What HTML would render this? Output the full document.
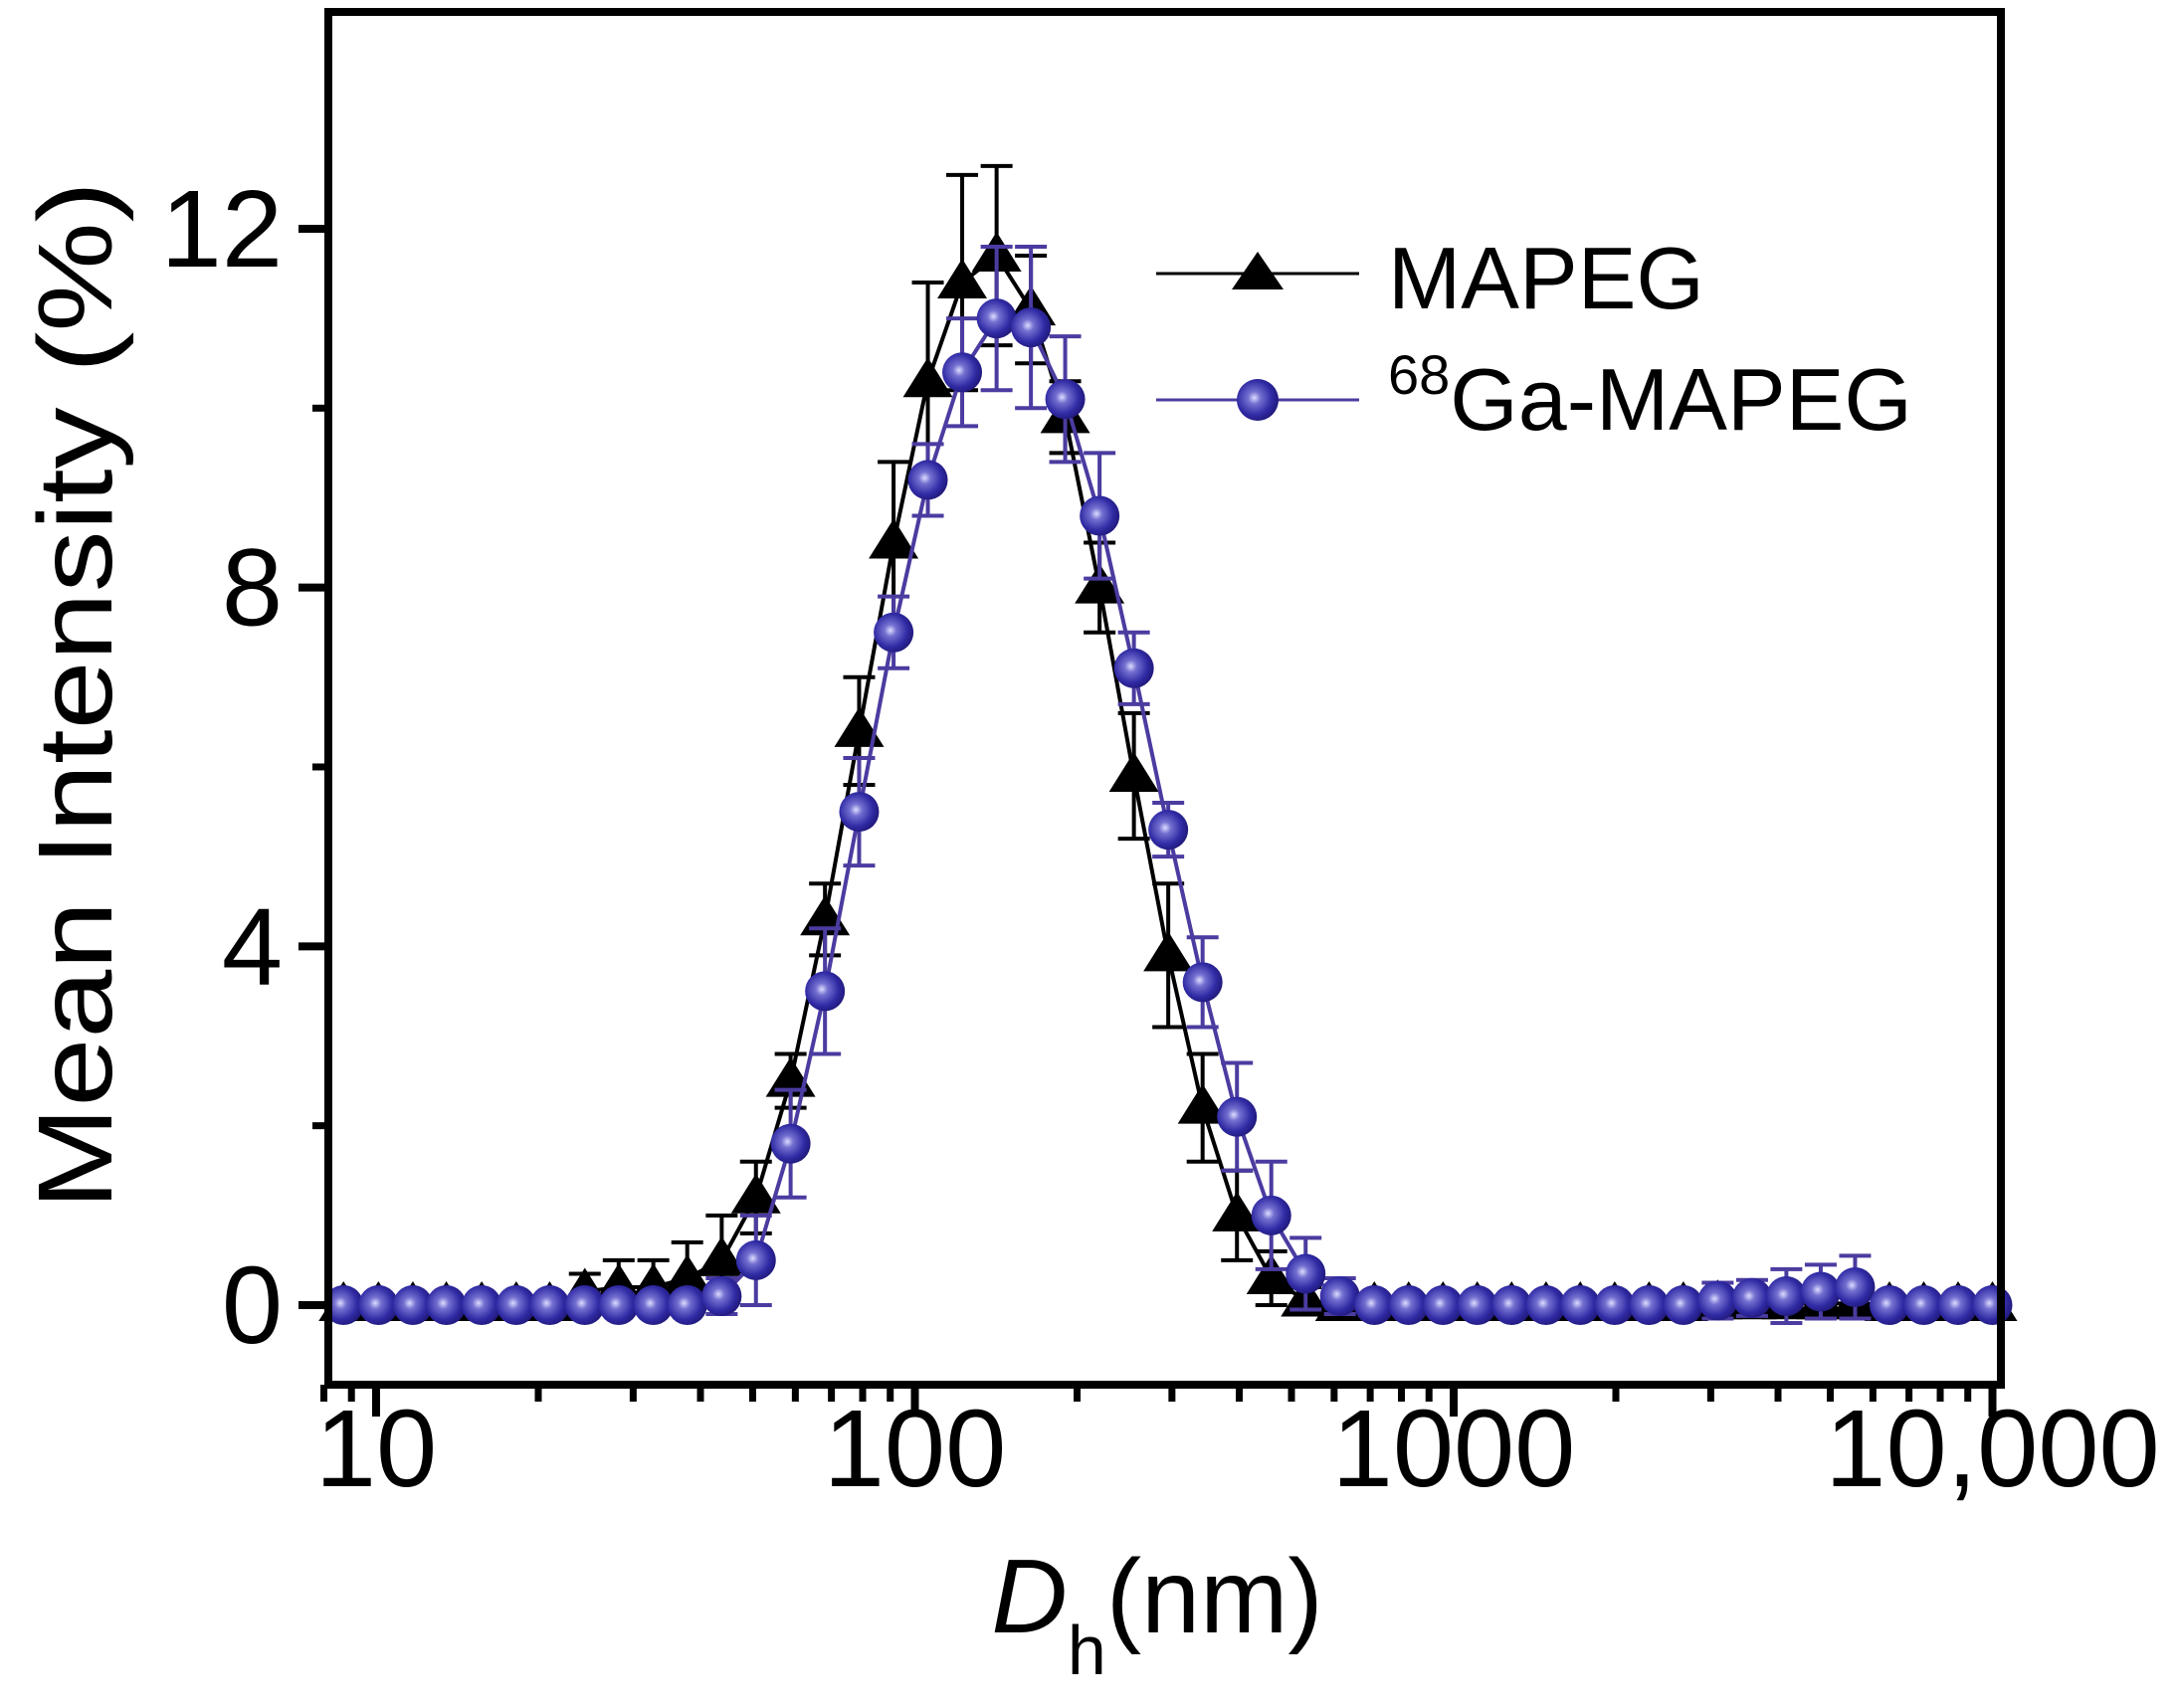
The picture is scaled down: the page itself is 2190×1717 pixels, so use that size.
<!DOCTYPE html>
<html><head><meta charset="utf-8">
<style>
html,body{margin:0;padding:0;background:#fff;}
svg{display:block;font-family:"Liberation Sans",Arial,sans-serif;}
</style></head>
<body>
<svg id="chart" width="2190" height="1717" viewBox="0 0 2190 1717" xmlns="http://www.w3.org/2000/svg">
<defs>
<radialGradient id="ball" cx="0.42" cy="0.45" r="0.6">
<stop offset="0" stop-color="#dcdcff"/>
<stop offset="0.25" stop-color="#7470d0"/>
<stop offset="0.7" stop-color="#302aa4"/>
<stop offset="1" stop-color="#1f1878"/>
</radialGradient>
</defs>
<g id="grid"></g>
<g id="series"></g>
<rect x="330" y="12" width="1681" height="1380" fill="none" stroke="#000" stroke-width="8"/>
<g id="axes"></g>
<text transform="translate(112,699) rotate(-90)" text-anchor="middle" font-size="106" textLength="1034" lengthAdjust="spacingAndGlyphs">Mean Intensity (%)</text>
<text x="1163" y="1641" text-anchor="middle" font-size="106"><tspan font-style="italic">D</tspan><tspan font-size="70" dy="42">h</tspan><tspan dy="-42">(nm)</tspan></text>
<g>
<line x1="1162" y1="275" x2="1366" y2="275" stroke="#000" stroke-width="3"/>
<polygon points="1264,253 1290,291 1238,291" fill="#000"/>
<text x="1395" y="310" font-size="88">MAPEG</text>
<line x1="1162" y1="402" x2="1366" y2="402" stroke="#4a3ca0" stroke-width="3"/>
<circle cx="1264" cy="402" r="21" fill="url(#ball)"/>
<text x="1395" y="432" font-size="88"><tspan font-size="56" dy="-36">68</tspan><tspan dy="36">Ga-MAPEG</tspan></text>
</g>
</svg>
<script>
const sizes = [8.7,10.1,11.7,13.5,15.7,18.2,21.0,24.4,28.2,32.7,37.8,43.8,50.7,58.8,68.1,78.8,91.3,105.7,122.4,141.8,164.2,190.1,220.2,255.0,295.3,342.0,396.1,458.7,531.2,615.1,712.4,825.0,955.4,1106,1281,1484,1718,1990,2305,2669,3091,3580,4145,4801,5560,6439,7456,8635,10000];
const mapegValues = [0,0,0,0,0,0,0,0.15,0.2,0.2,0.3,0.5,1.2,2.5,4.3,6.4,8.5,10.3,11.4,11.7,11.1,9.9,8.0,5.9,3.9,2.2,1.0,0.3,0.05,0,0,0,0,0,0,0,0,0,0,0,0.02,0.02,0.02,0.02,0.02,0,0,0,0];
const mapegErrors = [0,0,0,0,0,0,0,0.2,0.3,0.3,0.4,0.5,0.4,0.3,0.4,0.6,0.9,1.1,1.2,1.0,0.6,0.4,0.5,0.7,0.8,0.6,0.5,0.3,0.15,0,0,0,0,0,0,0,0,0,0,0,0.1,0.1,0.1,0.1,0.1,0,0,0,0];
const gaValues = [0,0,0,0,0,0,0,0,0,0,0,0.1,0.5,1.8,3.5,5.5,7.5,9.2,10.4,11.0,10.9,10.1,8.8,7.1,5.3,3.6,2.1,1.0,0.35,0.1,0,0,0,0,0,0,0,0,0,0,0.05,0.08,0.1,0.15,0.2,0,0,0,0];
const gaErrors = [0,0,0,0,0,0,0,0,0,0,0,0.2,0.5,0.6,0.7,0.6,0.4,0.4,0.6,0.8,0.9,0.7,0.7,0.4,0.3,0.5,0.6,0.6,0.4,0.2,0,0,0,0,0,0,0,0,0,0,0.2,0.2,0.3,0.3,0.35,0,0,0,0];
const yTicks = [0,4,8,12];
const yMinorTicks = [2,6,10];
const xTicks = [10,100,1000,10000];
const xTickLabels = ["10","100","1000","10,000"];

const NS = "http://www.w3.org/2000/svg";
const X10 = 378, DEC = 541.5, Y0 = 1312, YU = 90.17, XB = 1392;
function xs(v){ return X10 + DEC*(Math.log10(v)-1); }
function ys(v){ return Y0 - YU*v; }
function mk(tag, attrs, parent){ const e=document.createElementNS(NS,tag); for(const k in attrs) e.setAttribute(k,attrs[k]); parent.appendChild(e); return e; }

const axes = document.getElementById('axes');
yTicks.forEach((t)=>{
  const l = mk('line',{x1:300,x2:330,y1:ys(t),y2:ys(t),stroke:'#000','stroke-width':8},axes);
  
  
  const tx = mk('text',{x:284,y:ys(t)+38,'text-anchor':'end','font-size':110},axes);
  tx.textContent = String(t);
  
  
});
yMinorTicks.forEach((t)=>{
  const l = mk('line',{x1:314,x2:330,y1:ys(t),y2:ys(t),stroke:'#000','stroke-width':7},axes);
  
  
});
xTicks.forEach((t,i)=>{
  const l = mk('line',{x1:xs(t),x2:xs(t),y1:XB,y2:XB+32,stroke:'#000','stroke-width':8},axes);
  
  
  const tx = mk('text',{x:xs(t),y:1494,'text-anchor':'middle','font-size':110},axes);
  tx.textContent = xTickLabels[i];
  
  
});
for(let d=1; d<=10000; d*=10){
  for(let m=2;m<=9;m++){
    const v=d*m;
    if(v<7.8||v>10000) continue;
    const l = mk('line',{x1:xs(v),x2:xs(v),y1:XB,y2:XB+17,stroke:'#000','stroke-width':7},axes);
    
    
  }
}

const ser = document.getElementById('series');
function drawSeries(vals, errs, color, name, marker){
  const g = mk('g',{},ser);
  
  
  const pts = sizes.map((s,i)=>xs(s).toFixed(1)+','+ys(vals[i]).toFixed(1)).join(' ');
  const pl = mk('polyline',{points:pts,fill:'none',stroke:color,'stroke-width':4},g);
  
  
  sizes.forEach((s,i)=>{
    if(errs[i]<=0) return;
    const x=xs(s), y1=ys(vals[i]+errs[i]), y2=ys(vals[i]-errs[i]);
    const e = mk('path',{d:`M${x},${y1}V${y2}M${x-16},${y1}H${x+16}M${x-16},${y2}H${x+16}`,stroke:color,'stroke-width':4,fill:'none'},g);
    
    
  });
  sizes.forEach((s,i)=>{
    const x=xs(s), y=ys(vals[i]);
    let m;
    if(marker==='tri'){
      m = mk('polygon',{points:`${x},${y-24} ${x+25},${y+16} ${x-25},${y+16}`,fill:'#000'},g);
    } else {
      m = mk('circle',{cx:x,cy:y,r:20,fill:'url(#ball)'},g);
    }
    
    
  });
}
drawSeries(mapegValues, mapegErrors, '#000', 'mapeg', 'tri');
drawSeries(gaValues, gaErrors, '#4a3ca0', 'ga-mapeg', 'circle');
</script>
</body></html>
